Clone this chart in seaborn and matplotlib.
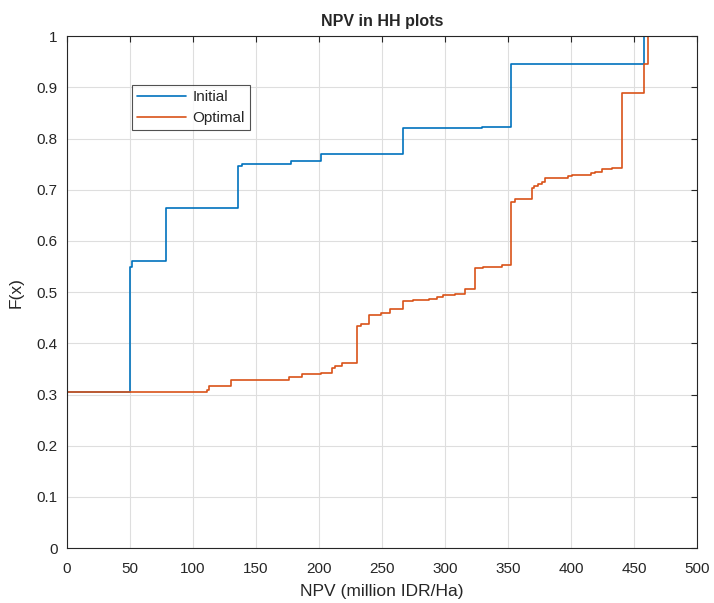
import numpy as np
import pandas as pd
import matplotlib
matplotlib.use("Agg")
import matplotlib.pyplot as plt
import seaborn as sns

# ---- data (step points of the empirical CDFs) ----
initial_x = [0, 0, 49.6, 51.4, 78.6, 135.6, 139.2, 177.5, 201.3, 266.4, 329.7, 352.8, 457.8]
initial_F = [0, 0.304, 0.549, 0.560, 0.665, 0.747, 0.751, 0.757, 0.770, 0.820, 0.823, 0.946, 1.0]

optimal_x = [0, 0, 110.8, 112.9, 130.3, 176.2, 186.2, 201.3, 210.5, 213.0, 218.0, 230.5,
             233.5, 240.0, 249.5, 256.6, 266.6, 275.0, 287.0, 293.5, 298.8, 308.0, 316.0,
             323.5, 330.5, 345.5, 352.8, 355.5, 369.2, 370.8, 374.0, 377.0, 379.3, 397.7,
             400.9, 416.0, 418.8, 424.6, 432.8, 440.4, 457.8, 461.5]
optimal_F = [0, 0.304, 0.309, 0.316, 0.328, 0.334, 0.340, 0.343, 0.351, 0.355, 0.361, 0.434,
             0.437, 0.456, 0.459, 0.467, 0.482, 0.484, 0.487, 0.490, 0.494, 0.497, 0.506,
             0.547, 0.550, 0.553, 0.677, 0.681, 0.703, 0.707, 0.711, 0.716, 0.723, 0.726,
             0.728, 0.732, 0.735, 0.740, 0.743, 0.889, 0.945, 1.0]

series_names = ["Initial", "Optimal"]
series_colors = ["#0072BD", "#D95319"]
x_ticks = [0, 50, 100, 150, 200, 250, 300, 350, 400, 450, 500]
y_ticks = [0, 0.1, 0.2, 0.3, 0.4, 0.5, 0.6, 0.7, 0.8, 0.9, 1]
y_tick_labels = ["0", "0.1", "0.2", "0.3", "0.4", "0.5", "0.6", "0.7", "0.8", "0.9", "1"]

df = pd.concat([
    pd.DataFrame({"NPV": initial_x, "F": initial_F, "series": series_names[0]}),
    pd.DataFrame({"NPV": optimal_x, "F": optimal_F, "series": series_names[1]}),
], ignore_index=True)

sns.set_style("white")
plt.rcParams["font.family"] = ["Liberation Sans", "DejaVu Sans"]

fig = plt.figure(figsize=(7.14, 6.03), dpi=100)
ax = fig.add_axes([0.094, 0.091, 0.882, 0.849])

sns.lineplot(data=df, x="NPV", y="F", hue="series", hue_order=series_names,
             palette=dict(zip(series_names, series_colors)), estimator=None,
             drawstyle="steps-post", linewidth=1.2, ax=ax, legend=True)

ax.set_xlim(0, 500)
ax.set_ylim(0, 1)
ax.set_xticks(x_ticks)
ax.set_yticks(y_ticks)
ax.set_yticklabels(y_tick_labels)
ax.grid(True, color="#dedede", linewidth=0.8)
ax.set_axisbelow(True)
for s in ax.spines.values():
    s.set_visible(True)
    s.set_color("#262626")
    s.set_linewidth(0.8)
ax.tick_params(direction="in", top=True, right=True, length=4, width=0.8,
               colors="#262626", labelsize=11)
ax.tick_params(axis="x", pad=10)
ax.tick_params(axis="y", pad=7)

ax.set_title("NPV in HH plots", fontsize=11.5, fontweight="bold", pad=7)
ax.set_xlabel("NPV (million IDR/Ha)", fontsize=12.5, color="#262626", labelpad=6)
ax.set_ylabel("F(x)", fontsize=12.5, color="#262626", labelpad=9)

leg = ax.legend(loc="upper left", bbox_to_anchor=(0.103, 0.905), borderaxespad=0,
                frameon=True, fancybox=False, edgecolor="#262626", fontsize=11,
                handlelength=3.2, borderpad=0.35, labelspacing=0.45, handletextpad=0.4)
leg.get_frame().set_linewidth(0.8)

fig.savefig("out.png", dpi=100, facecolor="white")
